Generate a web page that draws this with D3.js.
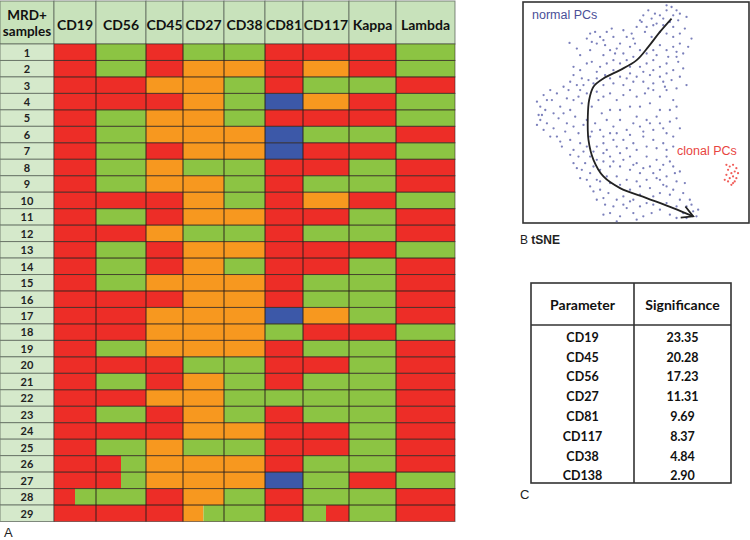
<!DOCTYPE html>
<html><head><meta charset="utf-8">
<script src="https://cdn.jsdelivr.net/npm/d3@7"></script>
<style>body{margin:0;background:#fff}svg{display:block}</style>
</head><body>
<svg id="c" width="750" height="540"></svg>
<script>
// ---------------- DATA ----------------
const markers = ["CD19","CD56","CD45","CD27","CD38","CD81","CD117","Kappa","Lambda"];
const samples = d3.range(1, 30).map(String);
// R=red, G=green, O=orange, B=blue; two letters = cell split in halves
const expr = [
 ["R","G","R","G","G","R","R","R","G"],
 ["R","G","R","O","O","R","O","R","G"],
 ["R","R","O","O","G","R","G","G","R"],
 ["R","R","R","O","G","B","O","R","G"],
 ["R","G","O","O","G","R","R","R","G"],
 ["R","G","O","O","O","B","G","G","R"],
 ["R","G","R","O","O","B","R","R","G"],
 ["R","G","O","G","G","R","R","G","R"],
 ["R","G","O","O","G","R","G","G","R"],
 ["R","R","R","O","G","R","O","R","G"],
 ["R","G","R","O","O","R","R","G","R"],
 ["R","R","O","G","G","R","G","G","R"],
 ["R","G","R","O","O","R","R","R","G"],
 ["R","G","R","O","G","R","R","G","R"],
 ["R","G","O","O","O","R","G","G","R"],
 ["R","R","R","O","O","R","G","G","R"],
 ["R","R","O","O","O","B","O","G","R"],
 ["R","R","O","O","O","G","R","R","G"],
 ["R","G","O","O","O","R","G","G","R"],
 ["R","R","R","G","G","R","R","G","R"],
 ["R","G","R","O","G","R","G","G","R"],
 ["R","R","O","O","G","G","G","G","R"],
 ["R","G","R","O","G","R","G","G","R"],
 ["R","R","R","O","O","R","R","G","R"],
 ["R","G","O","G","G","R","R","G","R"],
 ["R","RG","O","O","O","R","G","G","R"],
 ["R","RG","O","O","O","B","G","R","G"],
 ["RG","G","R","O","G","R","G","G","R"],
 ["R","R","R","OG","G","R","GR","G","R"]
];
const normalPCs = [
 [11.5,31.5],[13,30.5],[10,30.5],[8,29],[6.5,29.5],[4.5,30.5],[3,29],[5.5,28],[9,28],[12,29],[14,29.5],[16,28.5],[2.5,27],[7,26.5],[11,27],[13.5,27.5],[10,32],[4,25.5],
 [-13,23.5],[-11.5,24],[-10,22.5],[-8,24],[-6.5,25],[-12.5,21],[-11,20.5],[-8.5,20],[-7,18.5],[-5,19],[-4,20.5],[-2,22.5],[-0.5,23.5],[1,25.5],[3.5,24],[5.5,22.5],[8,24],[10,23.5],[12,25.5],[15.5,25],[17.5,22],[14,20.5],[12,19.5],[10,18.5],[8,20],[6,18.5],[4,17.5],[0.5,20.5],[-3,17.5],[-5.5,17.5],[-19.2,20.7],[15,17.5],[13,16.5],
 [-16,17],[-14,14.5],[-12.5,15],[-10,13.5],[-8,14.5],[-6,12.5],[-4,14.5],[-2,15.5],[0,16.5],[2,13.5],[4,14.5],[6,15.5],[8,13.5],[10,14.5],[12,12.5],[13.5,15],[10.5,16.5],[8,10.5],[5,11],[1,10.5],[-1,11.5],[-4,10.5],[-7,10],[-11,10],[-13.5,9.5],[-15.5,10],[-18,11],[-19,9],[-17,8],[-15,8],[-9,8],[-6,8.5],[-3,8],[0,9],[3,9],[6,8.5],[9,9],[11.5,9.5],[14,10.5],
 [-27,5],[-26,3.5],[-28,1.5],[-24.5,3.5],[-22,1.5],[-20,4],[-18,3.5],[-16.5,4.5],[-15.5,2.5],[-19,0.5],[-21,-0.5],[-24,-0.5],[-26.5,0.5],[-28.5,-1],[-12.5,1.5],[-10.5,3.5],[-9,4.5],[-7,5.5],[-5,3.5],[-3,5],[-1,6.5],[1,4.5],[3.5,5.5],[6,6.5],[8,4.5],[10,6.5],[12,3.5],[5,2.5],[2,1.5],[-1,1.5],[-4,0.5],[-7,0.5],[-9.5,-0.5],[8,0.5],[11,0.5],[13,1.5],[-11,6],[-14,5.5],[-16,6.5],
 [-28,-2.5],[-26,-3.5],[-24,-5],[-27,-5.5],[-23,-7.5],[-21.5,-10.5],[-25,-7.5],[-20,-3.5],[-18,-4.5],[-16.5,-6.5],[-19,-8.5],[-16,-9.5],[-14,-2.5],[-11.5,-3.5],[-10,-5.5],[-8,-2.5],[-6,-4.5],[-4,-2.5],[-2,-5.5],[0,-3.5],[2,-4.5],[4,-2.5],[6,-5.5],[8,-3.5],[10,-6.5],[12,-7.5],[9,-9.5],[6,-8.5],[3,-7.5],[0,-9.5],[-3,-8.5],[-6,-8.5],[-9,-9.5],[-11,-10.5],[-13,-7.5],[-7,-6.5],[1,-1.5],[7,-1.5],[-14,-10.5],[-18,-11.5],
 [-16.5,-13.5],[-14.5,-15.5],[-13,-13.5],[-11,-14.5],[-9,-12.5],[-7,-13.5],[-4,-12.5],[-1,-13.5],[1,-15.5],[4,-13.5],[7,-14.5],[10,-13.5],[12,-16.5],[8,-17.5],[5,-16.5],[2,-18.5],[-1,-17.5],[-4,-16.5],[-7,-16.5],[-10,-17.5],[-13,-18.5],[-14,-20.5],[-11,-20.5],[-8,-19.5],[-5,-19.5],[-2,-20.5],[1,-21],[4,-20.5],[7,-20],[10,-19.5],[12.5,-18.5],[-15.5,-17.5],[-18,-15.5],
 [-13,-22.5],[-10,-23.5],[-7.5,-24.5],[-11,-26.5],[-8.5,-28],[-7,-30.5],[-5,-26.5],[-3,-25.5],[0,-26.5],[2,-28.5],[0,-30.5],[4,-27.5],[6,-25.5],[8,-24.5],[10,-22.5],[12,-23.5],[15,-24.5],[17,-26.5],[16,-28.5],[15,-30.5],[13,-32],[16,-32],[18,-30],[19.5,-29.5],[14,-26.5],[10,-27.5],[8,-29.5],[5.5,-30.5],[1,-32.5],[-2,-29],[-4,-31.5],
 [-14,22],[-9,21.5],[-6,22.5],[-3,24.5],[0,22],[2,27.5],[6,26],[9,26],[12,22.5],[14,23.5],[16.5,19.5],[13,18],[7,17],[2,18.5],[-1,19.5],[-9,17],[-13,18.5],[-17,19],[-18,13.5],[-16,12.5],[-11,12],[-6,15.5],[-1,13.5],[3,12],[6,12.5],[10,11.5],[15,13],[16,8],[13,7],[9.5,7.5],[4.5,7],[-2,10],[-8.5,11],[-12,8.5],[-19.5,6.5],[-21,7.5],[-23,5.5],[-25,6.5],[-29,3],[-27.5,-1],[-29,-4],[-22.5,-2],[-20.5,-6],[-22,-9],[-17.5,-1.5],[-15,-4],[-12.5,-6],[-9,-7.5],[-5,-6.5],[-1,-7],[3,-6],[5,-3.5],[9,-5],[11,-3],[13,-2],[14,-5],[12,-10.5],[10,-11.5],[7,-11],[4,-10.5],[1,-11.5],[-2,-11],[-5,-10.5],[-8,-11.5],[-12,-12],[-15,-12],[-19,-13],[-17,-17],[-16,-20],[-12,-16.5],[-9,-15],[-6,-15],[-3,-14.5],[0,-16],[3,-17],[6,-18.5],[9,-16],[11,-15],[14,-18],[13,-21],[9,-22],[5,-23],[2,-22.5],[-1,-23.5],[-4,-22],[-7,-21.5],[-10,-21],[-12,-24],[-9,-26],[-6,-28.5],[-3,-28],[2,-25],[6,-28],[11,-25],[13,-28.5],[17.5,-28],[19,-31.5],[11,-31],[-1,-27],[3,-31.5],[-9,-31],[-5,-33],[8,-20.5],[15.5,-21.5]
];
const clonalPCs = [
 [28,-16],[29,-16.5],[30,-16],[31,-17],[28.5,-17.5],[30.5,-18],[29.5,-18.5],[31.5,-18.5],[28,-19],[30,-19.5],[29,-20],[31,-20],[28.5,-21],[30,-21.5],[27.5,-20.5],[30.5,-21],[29.5,-22]
];
const trajectory = [
 [11.5,28],[8,24],[4.5,19.5],[1,15.5],[-4,12.5],[-9,10],[-12,7.5],[-13.3,3.5],[-13.7,-1.5],[-13.5,-8.5],[-12,-14.5],[-9,-19.5],[-4,-23],[4,-26],[12,-29],[18,-31.5]
];
const parameters = ["CD19","CD45","CD56","CD27","CD81","CD117","CD38","CD138"];
const significance = ["23.35","20.28","17.23","11.31","9.69","8.37","4.84","2.90"];

// ---------------- STYLE / LAYOUT ----------------
const colorOf = {R:"#ed2d27", G:"#8cc443", O:"#f7981f", B:"#3c58a8"};
const colWidths = [54, 42, 50, 37, 41, 41, 38, 46, 47, 59];
const FONT = "Lato, 'Open Sans', sans-serif";
const svg = d3.select("#c");

// ---------------- PANEL A: heatmap ----------------
const edges = d3.cumsum([0].concat(colWidths));
const x = d3.scaleOrdinal().domain(["label"].concat(markers)).range(Array.from(edges).slice(0,10));
const w = d3.scaleOrdinal().domain(["label"].concat(markers)).range(colWidths);
const headTop = 1, headBot = 44;
const y = d3.scaleBand().domain(samples).range([headBot, 521.5]);
const gridStroke = "rgba(45,35,30,0.55)";

const gA = svg.append("g");
gA.selectAll("rect.h").data(["label"].concat(markers)).join("rect")
  .attr("x", d => x(d)).attr("y", headTop).attr("width", d => w(d)).attr("height", headBot - headTop)
  .attr("fill", "#c8e2bb").attr("stroke", "rgba(80,90,80,0.7)").attr("stroke-width", 1);
gA.selectAll("text.h").data(markers).join("text")
  .attr("x", d => x(d) + w(d)/2).attr("y", 25).attr("dy","0.35em")
  .attr("text-anchor","middle").attr("font-family",FONT).attr("font-weight","bold")
  .attr("font-size",14).attr("fill","#111").text(d => d);
gA.append("text").attr("x", 27).attr("y", 15).attr("dy","0.35em").attr("text-anchor","middle")
  .attr("font-family",FONT).attr("font-weight","bold").attr("font-size",13.5).attr("fill","#111").text("MRD+");
gA.append("text").attr("x", 27).attr("y", 31).attr("dy","0.35em").attr("text-anchor","middle")
  .attr("font-family",FONT).attr("font-weight","bold").attr("font-size",13.5).attr("fill","#111").text("samples");

gA.selectAll("rect.l").data(samples).join("rect")
  .attr("x", x("label")).attr("y", d => y(d)).attr("width", w("label")).attr("height", y.bandwidth())
  .attr("fill", "#d5e9cb").attr("stroke", "rgba(80,90,80,0.7)").attr("stroke-width", 1);
gA.selectAll("text.l").data(samples).join("text")
  .attr("x", w("label")/2).attr("y", d => y(d) + y.bandwidth()/2 + 0.5).attr("dy","0.35em")
  .attr("text-anchor","middle").attr("font-family",FONT).attr("font-weight","bold")
  .attr("font-size",11).attr("fill","#222").text(d => d);

const cells = [];
expr.forEach((row, i) => row.forEach((code, j) => {
  const parts = code.split("");
  parts.forEach((p, k) => cells.push({s: samples[i], m: markers[j], c: p, k, n: parts.length}));
}));
gA.selectAll("rect.c").data(cells).join("rect")
  .attr("x", d => x(d.m) + w(d.m) * d.k / d.n)
  .attr("y", d => y(d.s))
  .attr("width", d => w(d.m) / d.n)
  .attr("height", y.bandwidth())
  .attr("fill", d => colorOf[d.c]);
gA.selectAll("rect.o").data(expr.flatMap((row,i) => row.map((c,j) => ({s:samples[i], m:markers[j]})))).join("rect")
  .attr("x", d => x(d.m)).attr("y", d => y(d.s)).attr("width", d => w(d.m)).attr("height", y.bandwidth())
  .attr("fill","none").attr("stroke", gridStroke).attr("stroke-width", 1);

svg.append("text").attr("x", 4).attr("y", 537).attr("font-family","Liberation Sans, Arial, sans-serif")
  .attr("font-size",13).attr("fill","#222").text("A");

// ---------------- PANEL B: tSNE ----------------
const bx0 = 523, bx1 = 749, by0 = 2, by1 = 223;
const sx = d3.scaleLinear().domain([-33.2, 34.8]).range([bx0, bx1]);
const sy = d3.scaleLinear().domain([33, -33.5]).range([by0, by1]);
const gB = svg.append("g");
gB.append("rect").attr("x", bx0).attr("y", by0).attr("width", bx1-bx0).attr("height", by1-by0)
  .attr("fill","#fff").attr("stroke","#333").attr("stroke-width",1.6);
gB.selectAll("circle.n").data(normalPCs).join("circle")
  .attr("cx", d => sx(d[0])).attr("cy", d => sy(d[1])).attr("r", 1.15)
  .attr("fill","#5a60aa").attr("opacity",0.8);
gB.selectAll("circle.k").data(clonalPCs).join("circle")
  .attr("cx", d => sx(d[0])).attr("cy", d => sy(d[1])).attr("r", 1.1)
  .attr("fill","#ee4a46").attr("opacity",0.9);

const defs = svg.append("defs");
defs.append("marker").attr("id","arr").attr("viewBox","0 -7 14 14").attr("refX",12).attr("refY",0)
  .attr("markerWidth",14).attr("markerHeight",14).attr("markerUnits","userSpaceOnUse").attr("orient","auto")
  .append("path").attr("d","M1,-6 L12,0 L1,6").attr("fill","none").attr("stroke","#222").attr("stroke-width",1.8);
gB.append("path").datum(trajectory)
  .attr("d", d3.line().x(d => sx(d[0])).y(d => sy(d[1])).curve(d3.curveCatmullRom.alpha(0.5)))
  .attr("fill","none").attr("stroke","#222").attr("stroke-width",1.8).attr("marker-end","url(#arr)");

gB.append("text").attr("x", 532).attr("y", 19).attr("font-family","Liberation Sans, Arial, sans-serif")
  .attr("font-size",12.5).attr("fill","#4a4f98").text("normal PCs");
gB.append("text").attr("x", 677).attr("y", 155).attr("font-family","Liberation Sans, Arial, sans-serif")
  .attr("font-size",12.5).attr("fill","#e8453f").text("clonal PCs");
const bl = gB.append("text").attr("x", 520).attr("y", 244).attr("font-family","Liberation Sans, Arial, sans-serif")
  .attr("font-size",12).attr("fill","#222");
bl.append("tspan").text("B ");
bl.append("tspan").attr("font-weight","bold").text("tSNE");

// ---------------- PANEL C: table ----------------
const tx0 = 531, tx1 = 731, ty0 = 283, tyH = 325, ty1 = 483, tDiv = 634;
const ry = d3.scalePoint().domain(parameters).range([337.5, 476]);
const gC = svg.append("g");
gC.append("rect").attr("x", tx0).attr("y", ty0).attr("width", tx1-tx0).attr("height", ty1-ty0)
  .attr("fill","none").attr("stroke","#333").attr("stroke-width",1.6);
gC.append("line").attr("x1", tx0).attr("x2", tx1).attr("y1", tyH).attr("y2", tyH).attr("stroke","#333").attr("stroke-width",1.6);
gC.append("line").attr("x1", tDiv).attr("x2", tDiv).attr("y1", ty0).attr("y2", ty1).attr("stroke","#333").attr("stroke-width",1.6);
gC.append("text").attr("x", (tx0+tDiv)/2).attr("y", 305).attr("dy","0.35em").attr("text-anchor","middle")
  .attr("font-family",FONT).attr("font-weight","bold").attr("font-size",14).attr("fill","#111").text("Parameter");
gC.append("text").attr("x", (tDiv+tx1)/2).attr("y", 305).attr("dy","0.35em").attr("text-anchor","middle")
  .attr("font-family",FONT).attr("font-weight","bold").attr("font-size",14).attr("fill","#111").text("Significance");
gC.selectAll("text.p").data(parameters).join("text")
  .attr("x", (tx0+tDiv)/2).attr("y", d => ry(d)).attr("dy","0.35em").attr("text-anchor","middle")
  .attr("font-family",FONT).attr("font-weight","bold").attr("font-size",12.5).attr("fill","#111").text(d => d);
gC.selectAll("text.v").data(significance).join("text")
  .attr("x", (tDiv+tx1)/2).attr("y", (d,i) => ry(parameters[i])).attr("dy","0.35em").attr("text-anchor","middle")
  .attr("font-family",FONT).attr("font-weight","bold").attr("font-size",12.5).attr("fill","#111").text(d => d);
svg.append("text").attr("x", 520).attr("y", 499).attr("font-family","Liberation Sans, Arial, sans-serif")
  .attr("font-size",13).attr("fill","#222").text("C");
</script>
</body></html>
